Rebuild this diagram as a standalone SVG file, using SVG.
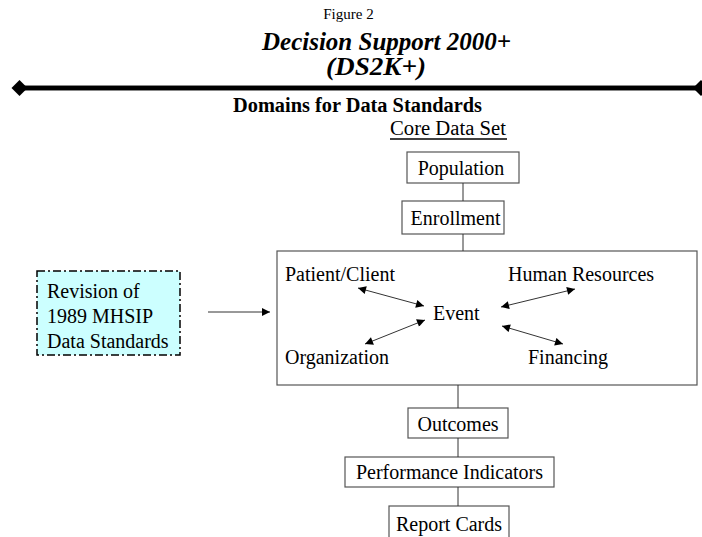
<svg xmlns="http://www.w3.org/2000/svg" width="702" height="537" viewBox="0 0 702 537">
<defs>
<style>
text{font-family:"Liberation Serif","Times New Roman",serif;fill:#000}
.b{font-size:20px}
.box{fill:#fff;stroke:#555;stroke-width:1.2}
.ln{stroke:#333;stroke-width:1;fill:none}
</style>
<marker id="ah" viewBox="0 0 10 10" refX="10" refY="5" markerWidth="10" markerHeight="8" markerUnits="userSpaceOnUse" orient="auto-start-reverse"><path d="M0,0 L10,5 L0,10 z" fill="#000"/></marker>
</defs>
<rect width="702" height="537" fill="#fff"/>
<g id="title">
<text x="348.5" y="19" font-size="15" text-anchor="middle">Figure 2</text>
<text x="262" y="50" font-size="25" font-weight="bold" font-style="italic">Decision Support 2000+</text>
<text x="326" y="75" font-size="25" font-weight="bold" font-style="italic" textLength="100" lengthAdjust="spacingAndGlyphs">(DS2K+)</text>
<line x1="16" y1="88" x2="702" y2="88" stroke="#888" stroke-width="6"/>
<line x1="16" y1="88" x2="702" y2="88" stroke="#000" stroke-width="4"/>
<path d="M11.5,88 L19.5,80 L27.5,88 L19.5,96 z" fill="#000"/>
<path d="M693,88 L701,80 L709,88 L701,96 z" fill="#000"/>
<text x="233" y="112" font-size="20" font-weight="bold" textLength="249" lengthAdjust="spacingAndGlyphs">Domains for Data Standards</text>
<text x="390" y="135" font-size="20.5" textLength="116" lengthAdjust="spacingAndGlyphs">Core Data Set</text>
<line x1="390" y1="139" x2="507" y2="139" stroke="#000" stroke-width="1.5"/>
</g>
<g id="population">
<rect class="box" x="407" y="152" width="112" height="31"/>
<text class="b" x="461" y="175" text-anchor="middle">Population</text>
</g>
<g id="enrollment">
<rect class="box" x="402" y="201" width="102" height="33"/>
<text class="b" x="455.5" y="225" text-anchor="middle">Enrollment</text>
</g>
<g id="core">
<rect class="box" x="277" y="251" width="420" height="134"/>
<text class="b" x="285" y="281">Patient/Client</text>
<text class="b" x="508" y="281">Human Resources</text>
<text class="b" x="433" y="320">Event</text>
<text class="b" x="285" y="364">Organization</text>
<text class="b" x="528" y="364">Financing</text>
</g>
<g id="revision">
<rect x="37" y="271" width="143" height="84" fill="#ccffff" stroke="#000" stroke-width="1.5" stroke-dasharray="8 3 2 3"/>
<text class="b" x="47" y="298">Revision of</text>
<text class="b" x="47" y="323">1989 MHSIP</text>
<text class="b" x="47" y="348">Data Standards</text>
</g>
<g id="outcomes">
<rect class="box" x="408" y="408" width="100" height="30"/>
<text class="b" x="458" y="431" text-anchor="middle">Outcomes</text>
</g>
<g id="performance">
<rect class="box" x="345" y="457" width="209" height="30"/>
<text class="b" x="449.5" y="479" text-anchor="middle">Performance Indicators</text>
</g>
<g id="reportcards">
<rect class="box" x="389" y="506" width="120" height="40"/>
<text class="b" x="449" y="531" text-anchor="middle">Report Cards</text>
</g>
<g id="connectors">
<line class="ln" x1="463" y1="183" x2="463" y2="201"/>
<line class="ln" x1="463" y1="234" x2="463" y2="251"/>
<line class="ln" x1="458" y1="385" x2="458" y2="408"/>
<line class="ln" x1="458" y1="438" x2="458" y2="457"/>
<line class="ln" x1="458" y1="487" x2="458" y2="506"/>
<line class="ln" x1="208" y1="312" x2="270" y2="312" marker-end="url(#ah)"/>
<line class="ln" x1="358" y1="288" x2="424" y2="306" marker-start="url(#ah)" marker-end="url(#ah)"/>
<line class="ln" x1="365" y1="344" x2="425" y2="320" marker-start="url(#ah)" marker-end="url(#ah)"/>
<line class="ln" x1="501" y1="307" x2="575" y2="289" marker-start="url(#ah)" marker-end="url(#ah)"/>
<line class="ln" x1="502" y1="326" x2="563" y2="344" marker-start="url(#ah)" marker-end="url(#ah)"/>
</g>
</svg>
